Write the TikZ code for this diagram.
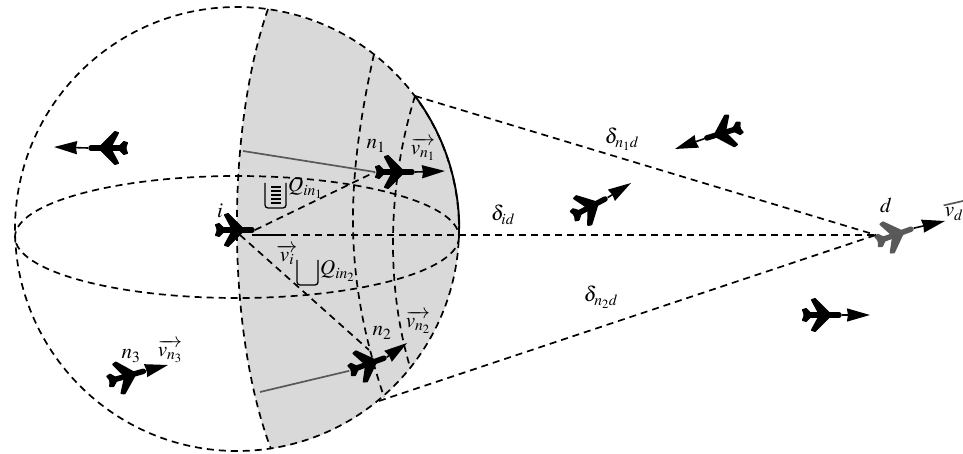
\documentclass[tikz,border=0pt]{standalone}
\usepackage{amsmath,amssymb}
\usepackage{mathptmx}
\usepackage{tikz}
\usetikzlibrary{arrows.meta,calc}

\begin{document}
\begin{tikzpicture}[
  x=1pt,y=-1pt,
  font=\fontsize{21}{23}\selectfont,
  dsh/.style={line width=1.7pt,dash pattern=on 7pt off 5pt},
  rim/.style={line width=1.9pt},
  vel/.style={line width=1.6pt,-{Stealth[length=23pt,width=13pt,inset=1pt]}},
  track/.style={line width=1.7pt,draw=black!65},
  buffer/.style={line width=1.3pt,rounded corners=3pt},
  lbl/.style={inner sep=0pt},
  plane/.pic={
    \draw[line width=5.5pt,line cap=round] (-16,0) -- (17,0);
    \filldraw[line width=2pt,line join=round] (7,-2) -- (-7,-16) -- (-10,-15) -- (-3,-2) -- (-3,2)
      -- (-10,15) -- (-7,16) -- (7,2) -- cycle;
    \filldraw[line width=2pt,line join=round] (-11,-1) -- (-16,-6) -- (-19,-5) -- (-17,0)
      -- (-19,5) -- (-16,6) -- (-11,1) -- cycle;
    \coordinate (-nose) at (20,0);
    \coordinate (-tail) at (-20,0);
  }]
\useasboundingbox (0,0) rectangle (963,454);

% --- anchor points of the sphere ---
\coordinate (cen) at (237,229);
\coordinate (top) at (268,9);
\coordinate (bot) at (271,449);
\coordinate (rimup) at (415,96);
\coordinate (rimdn) at (379,401);
\coordinate (ptop) at (374,54);
\coordinate (pbot) at (384,397);
\coordinate (qtop) at (415,96);
\coordinate (qbot) at (410,367);
\coordinate (dst) at (876,235);

% --- shaded sector, then the sphere and its meridians ---
\fill[black!15] (top) .. controls (226,130) and (226,330) .. (bot)
  arc[start angle=81.2,end angle=-81.2,radius=222];
\draw[dsh] (cen) circle[radius=222];
\draw[dsh] (237,237) ellipse[x radius=222,y radius=61];
\draw[dsh] (top) .. controls (226,130) and (226,330) .. (bot);
\draw[dsh] (ptop) .. controls (344,190) and (345,280) .. (pbot);
\draw[dsh] (qtop) .. controls (386,190) and (387,290) .. (qbot);
\draw[rim] (rimup) arc[start angle=-36.8,end angle=0,radius=222];

% --- planes ---
\pic (i) at (235,230) {plane};
\pic (n1) at (395,172) {plane};
\pic[rotate=20] (n2) at (368,364) {plane};
\pic[rotate=16] (n3) at (127,376) {plane};
\pic[rotate=180] (p4) at (108,148) {plane};
\pic[rotate=197] (p5) at (723,133) {plane};
\pic[rotate=28] (p6) at (590,207) {plane};
\pic (p7) at (822,315) {plane};
\pic[rotate=20,black!65] (d) at (895,235) {plane};

% --- velocities ---
\coordinate (vn1) at (445,171);
\coordinate (vn2) at (407,343);
\coordinate (vn3) at (168,365);
\coordinate (vp4) at (54,147);
\coordinate (vp5) at (675,149);
\coordinate (vp6) at (631,183);
\coordinate (vp7) at (870,315);
\coordinate (vd) at (945,221);
\draw[vel] (n1-nose) -- (vn1);
\draw[vel] (n2-nose) -- (vn2);
\draw[vel] (n3-nose) -- (vn3);
\draw[vel] (p4-nose) -- (vp4);
\draw[vel] (p5-nose) -- (vp5);
\draw[vel] (p6-nose) -- (vp6);
\draw[vel] (p7-nose) -- (vp7);
\draw[vel] (d-nose) -- (vd);

% --- links ---
\coordinate (is) at (252,235);
\coordinate (ie) at (279,235);
\coordinate (tn1) at (243,151);
\coordinate (tn2) at (260,392);
\coordinate (in2) at (240,235);
\coordinate (en2) at (369,350);
\draw[dsh] (i-nose) -- (n1-tail);
\draw[dsh] (in2) -- (en2);
\draw[line width=1.9pt] (is) -- (ie);
\draw[dsh] (ie) -- (dst);
\draw[dsh] (rimup) -- (dst);
\draw[dsh] (rimdn) -- (dst);
\draw[track] (tn1) -- (n1-tail);
\draw[track] (tn2) -- (n2-tail);

% --- buffers ---
\draw[buffer] (265,183) -- (265,208) -- (286,208) -- (286,183);
\foreach \yy in {187,191,...,205} \draw[line width=1.3pt] (271,\yy) -- (281,\yy);
\draw[buffer] (297,260) -- (297,285) -- (318,285) -- (318,260);

% --- labels ---
\node[lbl] (li) at (220,211) {$i$};
\node[lbl] (ln1) at (376,146) {$n_1$};
\node[lbl] (ln2) at (382,333) {$n_2$};
\node[lbl] (ln3) at (131,356) {$n_3$};
\node[lbl] (ld) at (886,205) {$d$};
\node[lbl] (lvn1) at (423,149) {$\overrightarrow{v_{n_1}}$};
\node[lbl] (lvn2) at (418,322) {$\overrightarrow{v_{n_2}}$};
\node[lbl] (lvn3) at (170,351) {$\overrightarrow{v_{n_3}}$};
\node[lbl] (lvi) at (287,255) {$\overrightarrow{v_i}$};
\node[lbl] (lvd) at (954,214) {$v_d$};
\draw[track] (lvd.north west) ++(-1,-2) -- (963,201);
\node[lbl,anchor=west] (lq1) at (288,188) {$Q_{in_1}$};
\node[lbl,anchor=west] (lq2) at (320,271) {$Q_{in_2}$};
\node[lbl] (ln1d) at (622,139) {$\delta_{n_1d}$};
\node[lbl] (lid) at (503,215) {$\delta_{id}$};
\node[lbl] (ln2d) at (601,297) {$\delta_{n_2d}$};
\end{tikzpicture}
\end{document}
